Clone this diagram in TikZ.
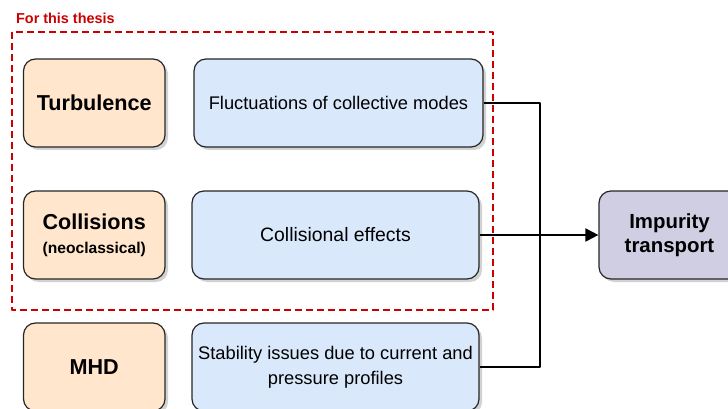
\documentclass[tikz,border=0pt]{standalone}
\usepackage{fontspec}
\setmainfont{Liberation Sans}
\usetikzlibrary{arrows.meta,shadows}
\definecolor{thesisred}{HTML}{CC0000}
\definecolor{orangefill}{HTML}{FFE6CC}
\definecolor{bluefill}{HTML}{DAE8FC}
\definecolor{purplefill}{HTML}{D0CEE2}
\begin{document}
\begin{tikzpicture}[>={Triangle[length=13pt,width=13pt]},x=1pt,y=-1pt,line join=round,
	box/.style={draw=black!85,line width=1.2pt,rounded corners=12pt,align=center,
		drop shadow={shadow xshift=3pt,shadow yshift=-3pt,fill=black!22,opacity=0.8}},
	srcbox/.style={box,fill=orangefill,minimum width=141.5pt,minimum height=88pt,
		font=\fontsize{21.6}{26}\selectfont\bfseries},
	effbox/.style={box,fill=bluefill,minimum height=88pt,font=\fontsize{18.3}{25}\selectfont},
	resbox/.style={box,fill=purplefill,minimum width=141pt,minimum height=88pt,
		font=\fontsize{20.4}{24}\selectfont\bfseries},
	link/.style={line width=2pt,black}]
	\clip (0,0) rectangle (728,409);
	% thesis frame
	\draw[thesisred,line width=2pt,dash pattern=on 7pt off 4pt] (12,32) rectangle (493,310);
	\node[anchor=west,text=thesisred,font=\fontsize{14.4}{17}\selectfont\bfseries,inner sep=0pt] (label) at (16,18) {For this thesis};
	% sources
	\node[srcbox] (turb) at (94.25,103) {Turbulence};
	\node[srcbox] (coll) at (94.25,235) {Collisions\\[-2pt]{\fontsize{15.6}{18}\selectfont(neoclassical)}};
	\node[srcbox] (mhd) at (94.25,367) {MHD};
	% effects
	\node[effbox,minimum width=289pt] (fluct) at (338.5,103) {Fluctuations of collective modes};
	\node[effbox,minimum width=287pt,font=\fontsize{19.4}{24}\selectfont] (colleff) at (335.5,235) {Collisional effects};
	\node[effbox,minimum width=287pt] (stab) at (335.5,367) {Stability issues due to current and\\pressure profiles};
	% result
	\node[resbox] (imp) at (669.5,235) {Impurity\\transport};
	\coordinate (join) at (540,235);
	\draw[link] (fluct.east) -| (join);
	\draw[link] (stab.east) -| (join);
	\draw[link,->] (colleff.east) -- (imp.west);
\end{tikzpicture}
\end{document}
